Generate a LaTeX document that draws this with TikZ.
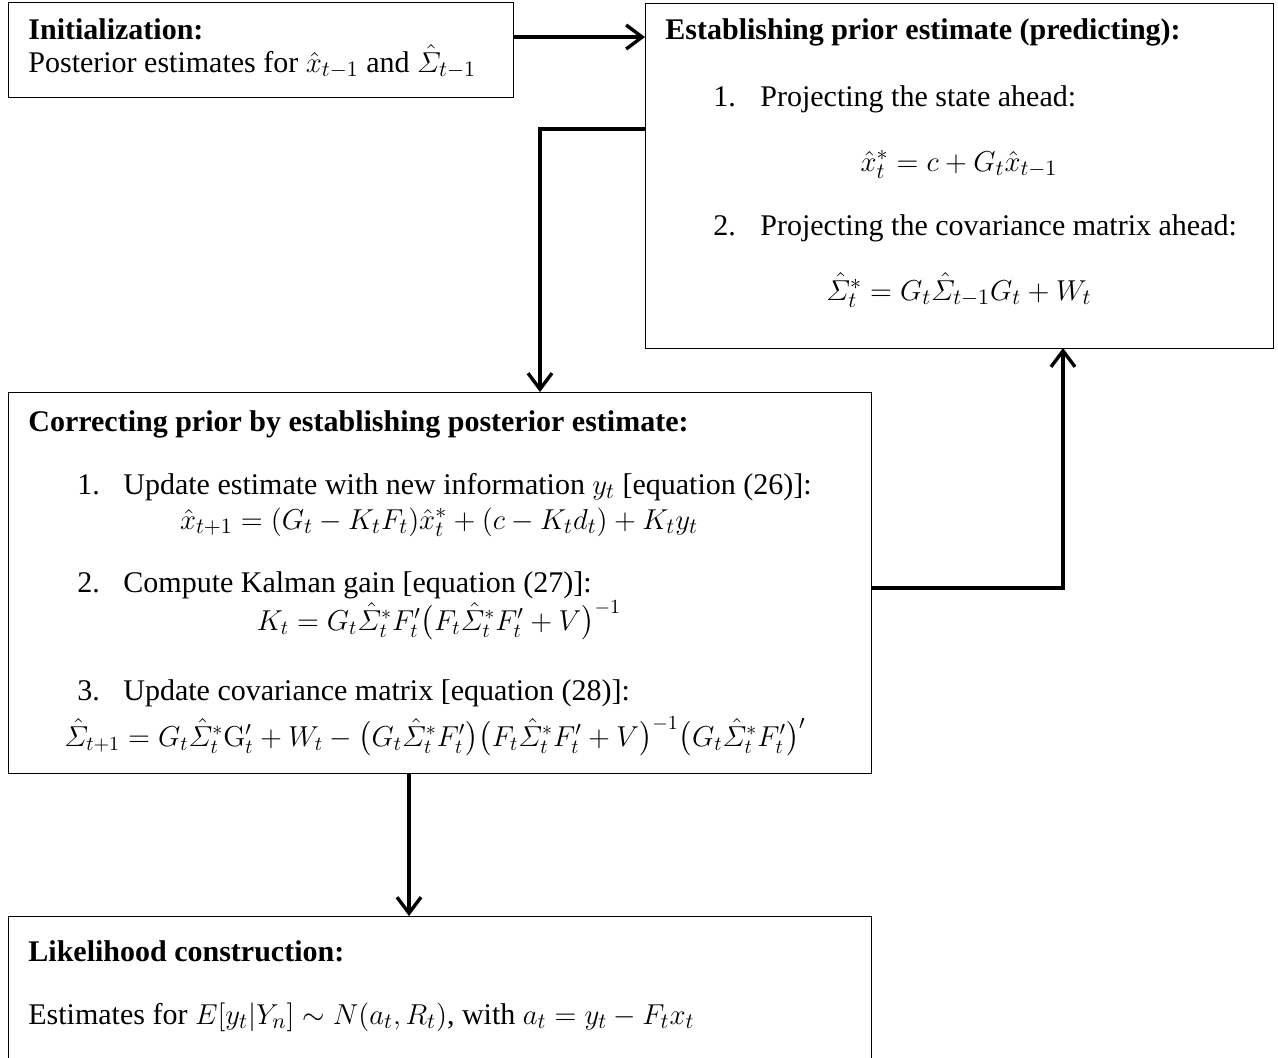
\documentclass[tikz,border=0pt]{standalone}
\usepackage{amsmath}
\usepackage[no-math]{fontspec}
\setmainfont{Liberation Serif}
\usetikzlibrary{arrows.meta}

\tikzset{
  box/.style={draw, line width=0.5pt, inner sep=0pt, outer sep=0pt},
  txt/.style={anchor=base west, inner sep=0pt, font=\fontsize{15}{17}\selectfont},
  eqn/.style={anchor=base, inner sep=0pt, font=\fontsize{15}{17}\selectfont},
  smalleqn/.style={eqn, font=\fontsize{14}{16}\selectfont},
  flow/.style={line width=1.7pt, -{Straight Barb[length=8pt,width=12pt,line width=1.7pt]}}
}

\begin{document}
\begin{tikzpicture}[x=0.5pt, y=-0.5pt]
				\useasboundingbox (0,0) rectangle (1278,1057);
				% boxes
				\node[box, minimum width=252.5pt, minimum height=47.5pt] (init) at (260.5,49.5) {};
				\node[box, minimum width=314pt, minimum height=172.5pt] (prior) at (959,175.5) {};
				\node[box, minimum width=431.5pt, minimum height=190.5pt] (correct) at (439.5,582.5) {};
				\node[box, minimum width=431.5pt, minimum height=73pt] (like) at (439.5,989) {};
				% initialization
				\node[txt] (inittitle) at (28,39) {\textbf{Initialization:}};
				\node[txt] (inittext) at (28,72) {Posterior estimates for $\hat{x}_{t-1}$ and $\hat{\varSigma}_{t-1}$};
				% predicting
				\node[txt] (priortitle) at (665,39) {\textbf{Establishing prior estimate (predicting):}};
				\node[txt] (priornum1) at (713,106) {1.};
				\node[txt] (prioritem1) at (760,106) {Projecting the state ahead:};
				\node[eqn] (prioreq1) at (959,171) {$\hat{x}_t^* = c + G_t\hat{x}_{t-1}$};
				\node[txt] (priornum2) at (713,235) {2.};
				\node[txt] (prioritem2) at (760,235) {Projecting the covariance matrix ahead:};
				\node[eqn] (prioreq2) at (959,300) {$\hat{\varSigma}_t^* = G_t\hat{\varSigma}_{t-1}G_t + W_t$};
				% correcting
				\node[txt] (corrtitle) at (28,431) {\textbf{Correcting prior by establishing posterior estimate:}};
				\node[txt] (corrnum1) at (77,494) {1.};
				\node[txt] (corritem1) at (123,494) {Update estimate with new information $y_t$ [equation (26)]:};
				\node[eqn] (correq1) at (439,529) {$\hat{x}_{t+1} = (G_t - K_tF_t)\hat{x}_t^* + (c - K_td_t) + K_ty_t$};
				\node[txt] (corrnum2) at (77,592) {2.};
				\node[txt] (corritem2) at (123,592) {Compute Kalman gain [equation (27)]:};
				\node[smalleqn] (correq2) at (439,630) {$K_t = G_t\hat{\varSigma}_t^*F_t'\bigl(F_t\hat{\varSigma}_t^*F_t' + V\bigr)^{-1}$};
				\node[txt] (corrnum3) at (77,700) {3.};
				\node[txt] (corritem3) at (123,700) {Update covariance matrix [equation (28)]:};
				\node[smalleqn] (correq3) at (435,746) {$\hat{\varSigma}_{t+1} = G_t\hat{\varSigma}_t^*\mathrm{G}_t' + W_t - \bigl(G_t\hat{\varSigma}_t^*F_t'\bigr)\bigl(F_t\hat{\varSigma}_t^*F_t' + V\bigr)^{-1}\bigl(G_t\hat{\varSigma}_t^*F_t'\bigr)'$};
				% likelihood
				\node[txt] (liketitle) at (28,961) {\textbf{Likelihood construction:}};
				\node[txt] (liketext) at (28,1024) {Estimates for $E[y_t|Y_n] \sim N(a_t,R_t)$, with $a_t = y_t - F_tx_t$};
				% connectors
				\draw[flow] (init.east |- 0,37) -- (prior.west |- 0,37);
				\draw[flow] (prior.west |- 0,129) -| (correct.north -| 540,0);
				\draw[flow] (correct.east |- 0,588) -| (prior.south -| 1063,0);
				\draw[flow] (correct.south -| 409,0) -- (like.north -| 409,0);
			\end{tikzpicture}
\end{document}
